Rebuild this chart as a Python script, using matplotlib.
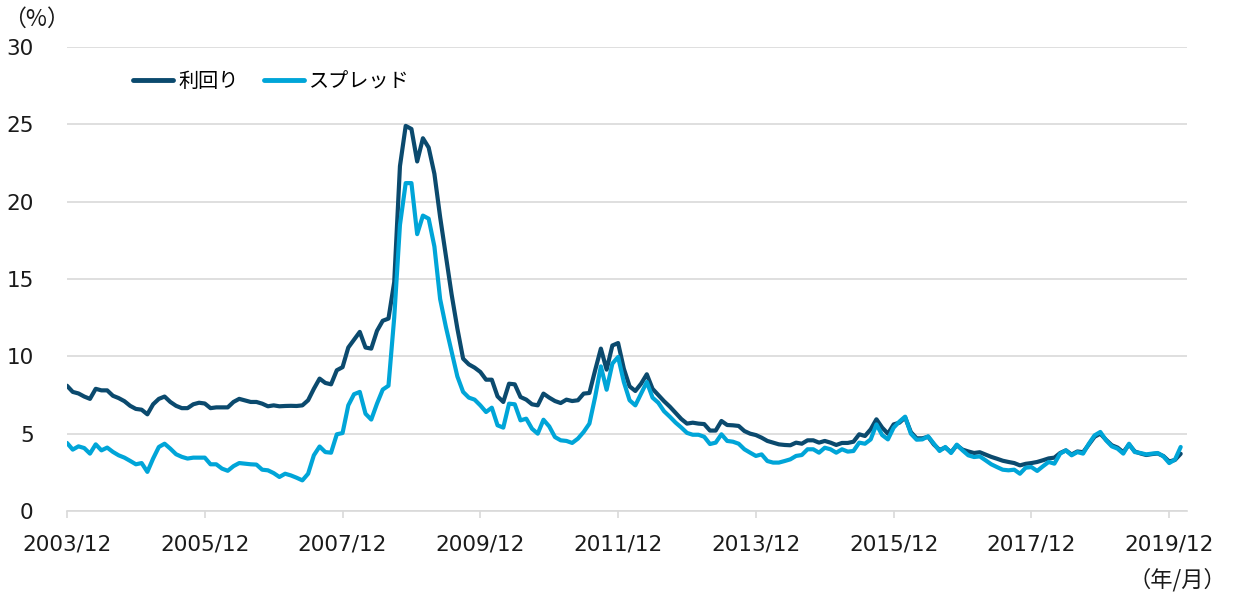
import numpy as np
import matplotlib
matplotlib.use("Agg")
import matplotlib.pyplot as plt

plt.rcParams['font.family'] = ['DejaVu Sans', 'Noto Sans CJK JP']

# Monthly data from 2003/12 to 2020/02 (195 points)
yield_vals = [
    8.1, 7.7, 7.6, 7.4, 7.25, 7.9, 7.8, 7.8, 7.45, 7.3, 7.1, 6.8, 6.6, 6.55, 6.25, 6.9,
    7.25, 7.4, 7.05, 6.8, 6.65, 6.65, 6.9, 7.0, 6.95, 6.65, 6.7, 6.7, 6.7, 7.05, 7.25,
    7.15, 7.05,
    7.05, 6.94, 6.77, 6.83, 6.77, 6.79, 6.8, 6.79, 6.83, 7.16, 7.9, 8.56, 8.28, 8.19,
    9.1, 9.3, 10.57, 11.08, 11.58, 10.57, 10.5, 11.65, 12.3, 12.44,
    14.8, 22.3, 24.9, 24.7, 22.6, 24.1, 23.5, 21.8, 19.0, 16.5, 14.0, 11.8, 9.85,
    9.48, 9.27, 8.99, 8.49, 8.49, 7.41, 7.05, 8.23, 8.19, 7.37, 7.2, 6.9, 6.83, 7.59,
    7.33, 7.11, 6.98, 7.2, 7.11, 7.16, 7.59, 7.63, 9.1, 10.5, 9.14, 10.7, 10.86, 9.2,
    8.06, 7.76, 8.23, 8.84,
    7.9, 7.5, 7.1, 6.75, 6.35, 5.95, 5.65, 5.71, 5.65, 5.62, 5.2, 5.2, 5.82, 5.56,
    5.54, 5.5, 5.17, 5.0, 4.91, 4.74, 4.53, 4.42, 4.31, 4.27, 4.25, 4.42, 4.35, 4.57,
    4.57, 4.42, 4.53, 4.42, 4.27, 4.4, 4.4, 4.48, 4.96, 4.85, 5.28, 5.93, 5.39, 5.0,
    5.6, 5.71,
    6.05, 5.1, 4.7, 4.7, 4.8, 4.3, 3.95, 4.1, 3.8, 4.25, 3.97, 3.85, 3.75, 3.8, 3.65,
    3.5, 3.38, 3.25, 3.17, 3.1, 2.95, 3.05, 3.1, 3.17, 3.28, 3.4, 3.45, 3.75, 3.92,
    3.65, 3.85, 3.8, 4.3, 4.8, 5.0, 4.6, 4.25, 4.1, 3.8, 4.3, 3.85, 3.72, 3.62, 3.68,
    3.72, 3.55, 3.2, 3.3, 3.7,
]

spread_vals = [
    4.4, 3.97, 4.18, 4.07, 3.71, 4.31, 3.92, 4.1, 3.82, 3.6, 3.45, 3.24, 3.02, 3.1,
    2.53, 3.39, 4.14, 4.35, 4.03, 3.67, 3.5, 3.39, 3.45, 3.45, 3.45, 3.02, 3.02, 2.74,
    2.6, 2.9, 3.1, 3.06, 3.02,
    3.0, 2.67, 2.63, 2.45, 2.2, 2.41, 2.3, 2.15, 1.98, 2.41, 3.6, 4.17, 3.81, 3.77,
    4.96, 5.04, 6.83, 7.55, 7.7, 6.29, 5.91, 6.94, 7.85, 8.1,
    12.5, 18.5, 21.2, 21.2, 17.9, 19.1, 18.9, 17.1, 13.7, 11.9, 10.3, 8.7, 7.7,
    7.33, 7.2, 6.83, 6.4, 6.68, 5.54, 5.39, 6.94, 6.9, 5.86, 5.97, 5.32, 5.0, 5.9,
    5.47, 4.78, 4.57, 4.53, 4.4, 4.68, 5.11, 5.65, 7.37, 9.35, 7.84, 9.53, 9.96, 8.34,
    7.16, 6.83, 7.59, 8.34,
    7.33, 7.0, 6.45, 6.1, 5.72, 5.4, 5.05, 4.93, 4.93, 4.8, 4.33, 4.42, 4.96, 4.53,
    4.48, 4.35, 3.99, 3.77, 3.56, 3.66, 3.23, 3.13, 3.13, 3.23, 3.34, 3.56, 3.62, 3.99,
    3.99, 3.77, 4.09, 3.99, 3.77, 3.99, 3.84, 3.88, 4.42, 4.35, 4.63, 5.6, 4.91, 4.63,
    5.39, 5.78,
    6.1, 5.0, 4.61, 4.63, 4.83, 4.35, 3.88, 4.14, 3.75, 4.29, 3.92, 3.6, 3.49, 3.53,
    3.28, 3.02, 2.84, 2.67, 2.63, 2.67, 2.41, 2.8, 2.84, 2.59, 2.89, 3.17, 3.06, 3.71,
    3.92, 3.6, 3.81, 3.71, 4.35, 4.89, 5.11, 4.57, 4.18, 4.03, 3.71, 4.35, 3.81, 3.75,
    3.66, 3.71, 3.75, 3.53, 3.1, 3.32, 4.14,
]

tick_labels = ['2003/12', '2005/12', '2007/12', '2009/12', '2011/12',
               '2013/12', '2015/12', '2017/12', '2019/12']
series_names = ['利回り', 'スプレッド']

DARK = '#0b4a6e'
LIGHT = '#00a5d8'
GRID = '#d9d9d9'

months = np.arange(len(yield_vals))

fig = plt.figure(figsize=(12.36, 5.93), dpi=100)
ax = fig.add_axes([67/1236, 1 - 511/593, 1120/1236, 464/593])

ax.plot(months, yield_vals, color=DARK, lw=3.0, label=series_names[0],
        solid_joinstyle='round', solid_capstyle='round')
ax.plot(months, spread_vals, color=LIGHT, lw=3.0, label=series_names[1],
        solid_joinstyle='round', solid_capstyle='round')

ax.set_xlim(0, 195.1)
ax.set_ylim(0, 30)
ax.set_yticks(range(0, 31, 5))
ax.set_xticks(np.arange(0, 193, 24))
ax.set_xticklabels(tick_labels)

ax.yaxis.grid(True, color=GRID, lw=1.2)
ax.set_axisbelow(True)
for s in ['top', 'right', 'left']:
    ax.spines[s].set_visible(False)
ax.spines['bottom'].set_color(GRID)
ax.spines['bottom'].set_linewidth(1.2)

ax.tick_params(axis='y', length=0, pad=24, labelsize=15.5, labelcolor='#1a1a1a')
ax.tick_params(axis='x', length=5, width=1.2, color=GRID, direction='out',
               pad=12, labelsize=15.5, labelcolor='#1a1a1a')

leg = ax.legend(loc='center left', bbox_to_anchor=(0.059, 0.925), ncol=2,
                frameon=False, borderaxespad=0, borderpad=0,
                handlelength=2.0, handletextpad=0.25, columnspacing=1.25,
                prop={'family': ['Noto Sans CJK JP', 'DejaVu Sans'], 'size': 14.5})
for h in leg.get_lines():
    h.set_linewidth(3.5)

fig.text(3/1236, 1 - 19/593, '（%）', ha='left', va='center', fontsize=16.5,
         family=['Noto Sans CJK JP', 'DejaVu Sans'], color='#1a1a1a')
fig.text(1226/1236, 1 - 580/593, '（年/月）', ha='right', va='center', fontsize=16,
         family=['Noto Sans CJK JP', 'DejaVu Sans'], color='#1a1a1a')

fig.savefig('out.png', dpi=100)
